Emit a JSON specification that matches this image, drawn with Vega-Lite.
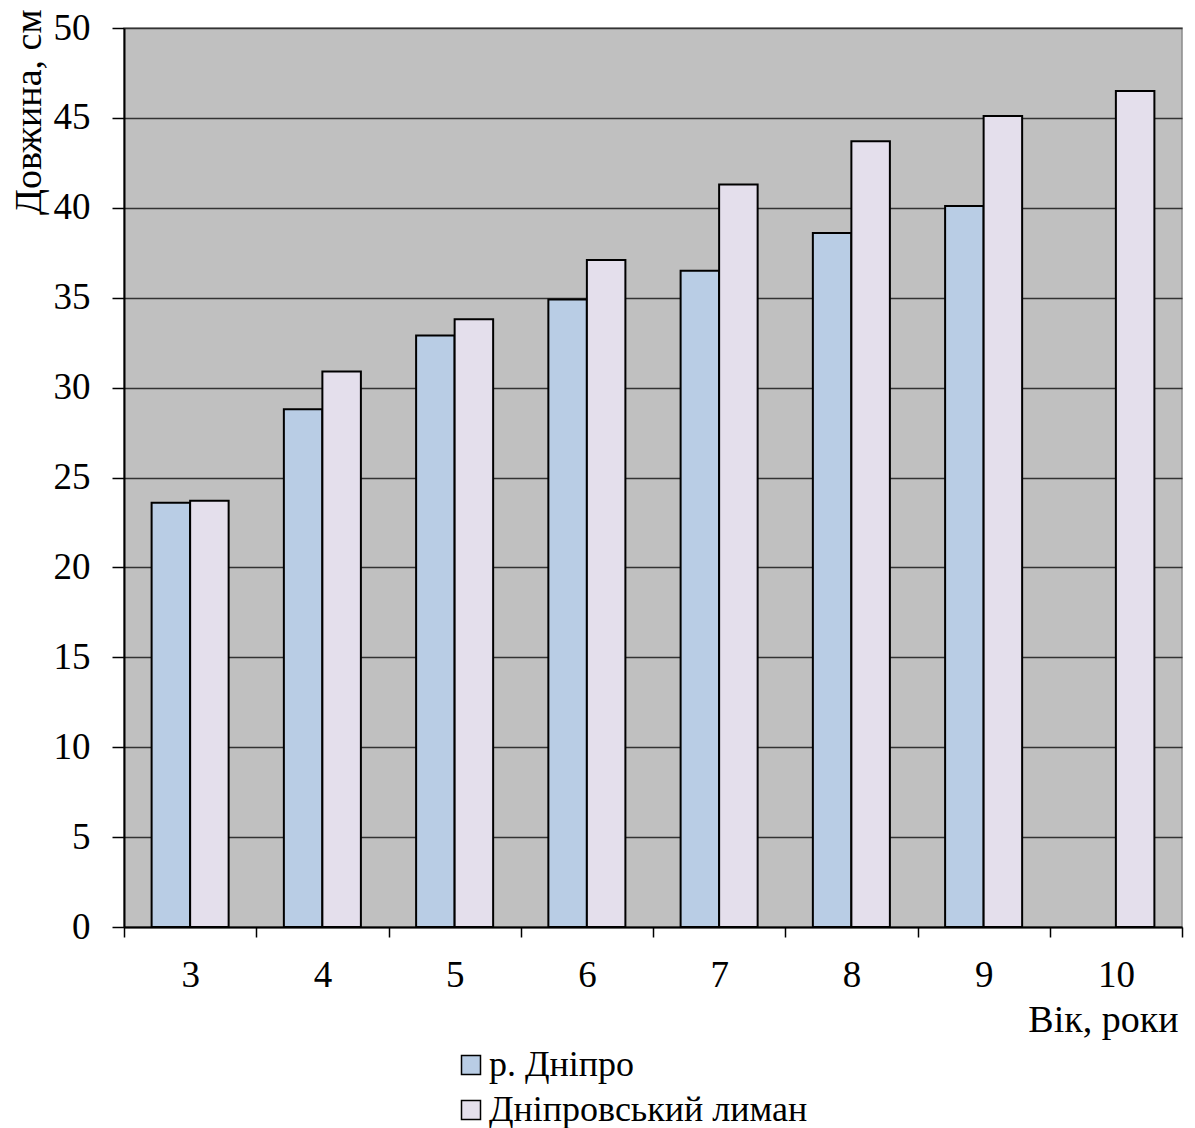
{
  "$schema": "https://vega.github.io/schema/vega-lite/v6.json",
  "autosize": {"type": "none"},
  "padding": {"left": 124, "top": 28, "right": 13, "bottom": 201},
  "width": 1058,
  "height": 899,
  "background": "white",
  "config": {
    "font": "Liberation Serif",
    "view": {"fill": "#c0c0c0", "stroke": "#8a8a8a", "strokeWidth": 1.5}
  },
  "data": {
    "values": [
      {"age": "3", "site": "р. Дніпро", "length": 23.6},
      {"age": "3", "site": "Дніпровський лиман", "length": 23.7},
      {"age": "4", "site": "р. Дніпро", "length": 28.8},
      {"age": "4", "site": "Дніпровський лиман", "length": 30.9},
      {"age": "5", "site": "р. Дніпро", "length": 32.9},
      {"age": "5", "site": "Дніпровський лиман", "length": 33.8},
      {"age": "6", "site": "р. Дніпро", "length": 34.9},
      {"age": "6", "site": "Дніпровський лиман", "length": 37.1},
      {"age": "7", "site": "р. Дніпро", "length": 36.5},
      {"age": "7", "site": "Дніпровський лиман", "length": 41.3},
      {"age": "8", "site": "р. Дніпро", "length": 38.6},
      {"age": "8", "site": "Дніпровський лиман", "length": 43.7},
      {"age": "9", "site": "р. Дніпро", "length": 40.1},
      {"age": "9", "site": "Дніпровський лиман", "length": 45.1},
      {"age": "10", "site": "Дніпровський лиман", "length": 46.5}
    ]
  },
  "mark": {"type": "bar", "stroke": "black", "strokeWidth": 2, "strokeJoin": "miter"},
  "encoding": {
    "x": {
      "field": "age",
      "type": "nominal",
      "sort": ["3", "4", "5", "6", "7", "8", "9", "10"],
      "scale": {"paddingInner": 0, "paddingOuter": 0},
      "axis": {
        "title": "Вік, роки",
        "titleFont": "Liberation Serif",
        "titleFontSize": 38,
        "titleFontWeight": "normal",
        "titleColor": "black",
        "titleAnchor": "end",
        "titleAlign": "right",
        "titleBaseline": "alphabetic",
        "titleX": 1054,
        "titleY": 104,
        "labelAngle": 0,
        "labelFont": "Liberation Serif",
        "labelFontSize": 37,
        "labelColor": "black",
        "labelBaseline": "top",
        "labelPadding": 20,
        "tickBand": "extent",
        "tickSize": 10,
        "tickColor": "black",
        "tickWidth": 1.5,
        "domainColor": "black",
        "domainWidth": 2,
        "grid": false
      }
    },
    "xOffset": {
      "field": "site",
      "type": "nominal",
      "sort": ["р. Дніпро", "Дніпровський лиман"],
      "scale": {"paddingInner": 0, "paddingOuter": 0.717}
    },
    "y": {
      "field": "length",
      "type": "quantitative",
      "scale": {"domain": [0, 50], "nice": false},
      "axis": {
        "title": "Довжина, см",
        "titleFont": "Liberation Serif",
        "titleFontSize": 38,
        "titleFontWeight": "normal",
        "titleColor": "black",
        "titleAnchor": "end",
        "titleAngle": -90,
        "titleAlign": "right",
        "titleBaseline": "alphabetic",
        "titleX": -84,
        "titleY": -19,
        "values": [0, 5, 10, 15, 20, 25, 30, 35, 40, 45, 50],
        "labelFont": "Liberation Serif",
        "labelFontSize": 37,
        "labelColor": "black",
        "labelPadding": 22,
        "tickSize": 12,
        "tickColor": "black",
        "tickWidth": 1.5,
        "domainColor": "black",
        "domainWidth": 2,
        "grid": true,
        "gridColor": "#333333",
        "gridWidth": 1.5,
        "gridOpacity": 1
      }
    },
    "color": {
      "field": "site",
      "type": "nominal",
      "sort": ["р. Дніпро", "Дніпровський лиман"],
      "scale": {"domain": ["р. Дніпро", "Дніпровський лиман"], "range": ["#b9cde5", "#e4dfec"]},
      "legend": {
        "title": null,
        "orient": "none",
        "legendX": 329,
        "legendY": 1019,
        "padding": 0,
        "symbolType": "square",
        "symbolSize": 361,
        "symbolStrokeColor": "black",
        "symbolStrokeWidth": 1.5,
        "symbolOpacity": 1,
        "labelFont": "Liberation Serif",
        "labelFontSize": 36,
        "labelColor": "black",
        "labelOffset": 0,
        "rowPadding": 9,
        "labelLimit": 600
      }
    }
  }
}
